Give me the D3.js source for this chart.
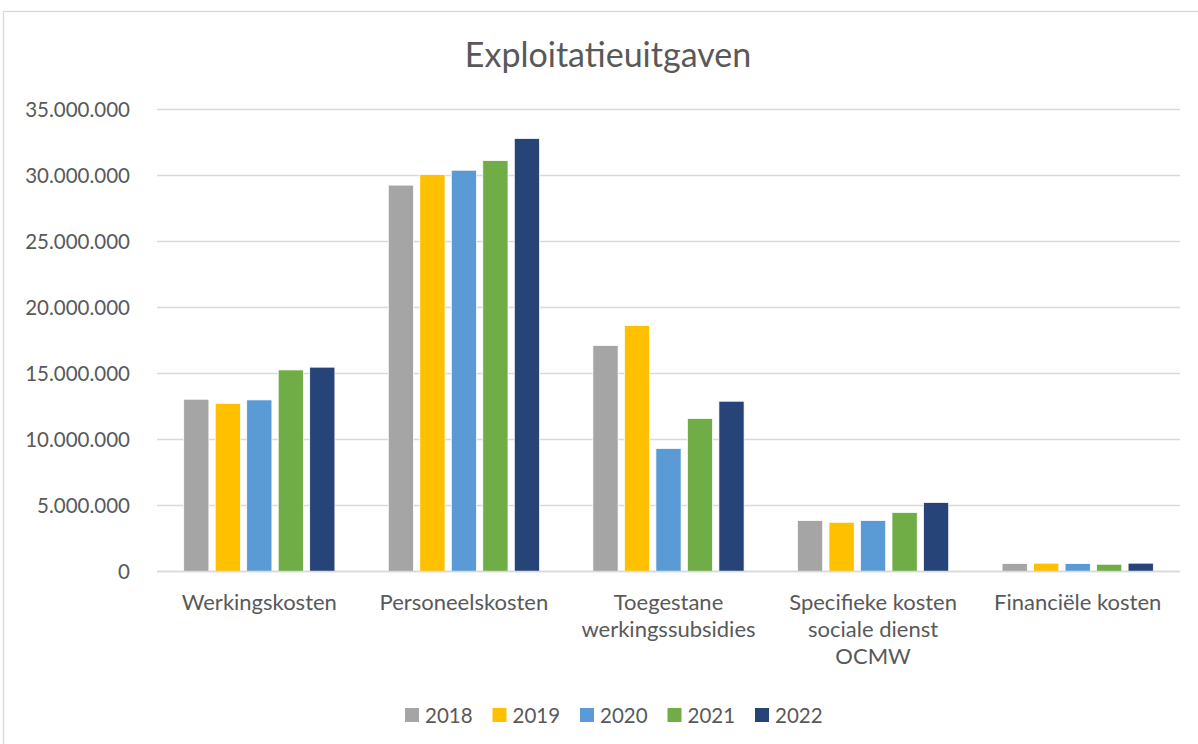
<!DOCTYPE html>
<html>
<head>
<meta charset="utf-8">
<script src="https://cdn.jsdelivr.net/npm/d3@7"></script>
<style>
  body { margin: 0; background: #fff; }
  text { font-family: Lato, "Open Sans", sans-serif; fill: #595959; }
</style>
</head>
<body>
<svg width="1198" height="744"></svg>
<script>

// chart data
var categories = ["Werkingskosten", "Personeelskosten", "Toegestane werkingssubsidies", "Specifieke kosten sociale dienst OCMW", "Financiële kosten"];
var categoryLines = [["Werkingskosten"], ["Personeelskosten"], ["Toegestane", "werkingssubsidies"], ["Specifieke kosten", "sociale dienst", "OCMW"], ["Financiële kosten"]];
var years = ["2018", "2019", "2020", "2021", "2022"];
var values2018 = [13050000, 29270000, 17120000, 3860000, 600000];
var values2019 = [12730000, 30070000, 18640000, 3730000, 630000];
var values2020 = [13000000, 30400000, 9320000, 3860000, 600000];
var values2021 = [15270000, 31130000, 11590000, 4470000, 550000];
var values2022 = [15480000, 32800000, 12900000, 5230000, 630000];
var yTicks = [0, 5000000, 10000000, 15000000, 20000000, 25000000, 30000000, 35000000];
var colors = ["#A5A5A5", "#FFC000", "#5B9BD5", "#70AD47", "#264478"];

var series = [values2018, values2019, values2020, values2021, values2022];

var svg = d3.select("svg"),
    plot = {left: 157, right: 1180, top: 109.5, bottom: 571.5};

// outer frame
svg.append("rect")
    .attr("x", 3.5)
    .attr("y", 11.5)
    .attr("width", 1300)
    .attr("height", 800)
    .attr("fill", "none")
    .attr("stroke", "#d9d9d9")
    .attr("stroke-width", 1.3);

var x0 = d3.scaleBand()
    .domain(categories)
    .range([plot.left, plot.right])
    .paddingInner(0.261)
    .paddingOuter(0.1305);

var x1 = d3.scaleBand()
    .domain(years)
    .range([0, x0.bandwidth()])
    .paddingInner(0.2);

var y = d3.scaleLinear()
    .domain([0, 35000000])
    .range([plot.bottom, plot.top]);

var fmt = function(d) { return d3.format(",")(d).replace(/,/g, "."); };

// gridlines
svg.append("g")
    .selectAll("line")
    .data(yTicks)
  .enter().append("line")
    .attr("x1", plot.left)
    .attr("x2", plot.right)
    .attr("y1", function(d) { return y(d); })
    .attr("y2", function(d) { return y(d); })
    .attr("stroke", "#d9d9d9")
    .attr("stroke-width", 1.5);

// y axis labels
var yAxis = d3.axisLeft(y)
    .tickValues(yTicks)
    .tickFormat(fmt)
    .tickSize(0)
    .tickPadding(27);

svg.append("g")
    .attr("transform", "translate(" + plot.left + ",0)")
    .call(yAxis)
    .call(function(g) { g.select(".domain").remove(); })
    .selectAll("text")
    .style("font-size", "20.5px")
    .attr("fill", "#595959");

// bars
years.forEach(function(yr, i) {
  svg.append("g")
      .selectAll("rect")
      .data(series[i])
    .enter().append("rect")
      .attr("x", function(d, j) { return x0(categories[j]) + x1(yr); })
      .attr("y", function(d) { return y(d); })
      .attr("width", x1.bandwidth())
      .attr("height", function(d) { return plot.bottom - y(d); })
      .attr("fill", colors[i])
      .attr("stroke", "#fff")
      .attr("stroke-width", 0.75);
});

// baseline
svg.append("line")
    .attr("x1", plot.left)
    .attr("x2", plot.right)
    .attr("y1", y(0))
    .attr("y2", y(0))
    .attr("stroke", "#d9d9d9")
    .attr("stroke-width", 1.5);

// category labels
var cat = svg.append("g")
    .selectAll("text")
    .data(categories)
  .enter().append("text")
    .attr("x", function(d) { return x0(d) + x0.bandwidth() / 2; })
    .attr("y", 610)
    .attr("text-anchor", "middle")
    .style("font-size", "22px");

cat.each(function(d, j) {
  var t = d3.select(this);
  categoryLines[j].forEach(function(line, k) {
    t.append("tspan")
        .attr("x", x0(d) + x0.bandwidth() / 2)
        .attr("dy", k === 0 ? 0 : 27)
        .text(line);
  });
});

// title
svg.append("text")
    .attr("x", 608)
    .attr("y", 67)
    .attr("text-anchor", "middle")
    .style("font-size", "34px")
    .text("Exploitatieuitgaven");

// legend
var legend = svg.append("g")
    .selectAll("g")
    .data(years)
  .enter().append("g")
    .attr("transform", function(d, i) { return "translate(" + (405 + i * 87.5) + ",708)"; });

legend.append("rect")
    .attr("width", 14)
    .attr("height", 14)
    .attr("fill", function(d, i) { return colors[i]; });

legend.append("text")
    .attr("x", 20)
    .attr("y", 14.5)
    .style("font-size", "20.5px")
    .text(function(d) { return d; });

</script>
</body>
</html>
